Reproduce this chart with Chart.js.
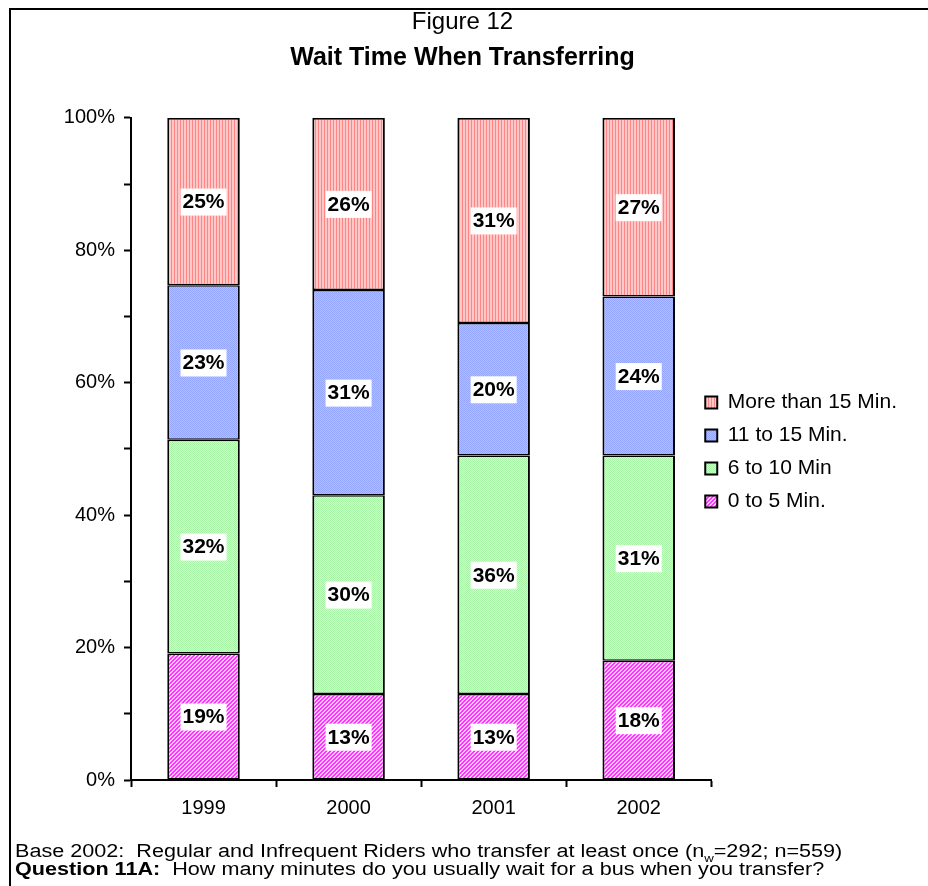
<!DOCTYPE html>
<html>
<head>
<meta charset="utf-8">
<script src="https://cdn.jsdelivr.net/npm/chart.js@4"></script>
<style>
  html, body { margin: 0; padding: 0; background: #fff; overflow: hidden; }
  #wrap { position: relative; width: 928px; height: 886px; }
  #frame { position: absolute; left: 9px; top: 8px; width: 940px; height: 900px; border-top: 2px solid #000; border-left: 2px solid #000; }
  #chart { position: absolute; left: 0; top: 0; }
  .note { position: absolute; left: 15px; font: 18px "Liberation Sans", Arial, sans-serif; color: #000; white-space: nowrap; line-height: 18px; transform: scaleX(1.2); transform-origin: 0 0; }
  .note sub { font-size: 11px; line-height: 0; }
</style>
</head>
<body>
<div id="wrap">
  <div id="frame"></div>
  <canvas id="chart" width="928" height="886"></canvas>
  <div class="note" style="top:842px">Base 2002:&nbsp; Regular and Infrequent Riders who transfer at least once (n<sub>w</sub>=292; n=559)</div>
  <div class="note" style="top:860px"><b>Question 11A:</b>&nbsp; How many minutes do you usually wait for a bus when you transfer?</div>
</div>
<script>
// ====== DATA ======
const years = ['1999', '2000', '2001', '2002'];
const min0to5 = [19.1, 13, 13, 18];
const min6to10 = [32.3, 30, 36, 31];
const min11to15 = [23.3, 31, 20, 24];
const over15 = [25.3, 26, 31, 27];
const yTicks = [0, 20, 40, 60, 80, 100];

const FONT = '"Liberation Sans", Arial, sans-serif';

// ====== PATTERNS ======
function makePattern(size, paint) {
    const c = document.createElement('canvas');
    c.width = size; c.height = size;
    const g = c.getContext('2d');
    for (let y = 0; y < size; y++) {
        for (let x = 0; x < size; x++) {
            g.fillStyle = paint(x, y);
            g.fillRect(x, y, 1, 1);
        }
    }
    return g.createPattern(c, 'repeat');
}

const redStripes = makePattern(3, (x, y) => x === 0 ? '#ff8585' : '#ffc8c8');
const blueDots = makePattern(2, (x, y) => (x + y) % 2 === 0 ? '#93a5ff' : '#b3c0ff');
const greenDots = makePattern(2, (x, y) => (x + y) % 2 === 0 ? '#a8f5a8' : '#ccffcc');
const pinkHatch = makePattern(4, (x, y) => (x + y) % 4 < 2 ? '#ff33ff' : '#ffc4ff');

// ====== PLUGINS ======
// white-boxed percentage in the middle of each segment
const segmentLabels = {
    id: 'segmentLabels',
    afterDatasetsDraw(chart) {
        const ctx = chart.ctx;
        ctx.save();
        ctx.font = 'bold 21px ' + FONT;
        ctx.textAlign = 'center';
        ctx.textBaseline = 'middle';
        chart.data.datasets.forEach((ds, i) => {
            chart.getDatasetMeta(i).data.forEach((bar, j) => {
                const txt = Math.round(ds.data[j]) + '%';
                const cy = (bar.y + bar.base) / 2;
                const w = ctx.measureText(txt).width + 4;
                ctx.fillStyle = '#fff';
                ctx.fillRect(bar.x - w / 2, cy - 13, w, 27);
                ctx.fillStyle = '#000';
                ctx.fillText(txt, bar.x, cy + 1);
            });
        });
        ctx.restore();
    }
};

// nudge the legend so it sits like the original (slightly into the axis gap)
const legendNudge = {
    id: 'legendNudge',
    afterLayout(chart) {
        const lg = chart.legend;
        lg.left -= 18; lg.right -= 18;
        lg.top += 42; lg.bottom += 42;
    }
};

// ====== CHART ======
const barStyle = {
    borderColor: '#000',
    borderWidth: { top: 1.5, bottom: 1.5, left: 2, right: 2 },
    borderSkipped: false,
    barPercentage: 1,
    categoryPercentage: 0.5
};

new Chart(document.getElementById('chart'), {
    type: 'bar',
    data: {
        labels: years,
        datasets: [
            { label: '0 to 5 Min.', data: min0to5, backgroundColor: pinkHatch, ...barStyle },
            { label: '6 to 10 Min', data: min6to10, backgroundColor: greenDots, ...barStyle },
            { label: '11 to 15 Min.', data: min11to15, backgroundColor: blueDots, ...barStyle },
            { label: 'More than 15 Min.', data: over15, backgroundColor: redStripes, ...barStyle,
              borderWidth: { top: 2, bottom: 1.5, left: 2, right: 2 } }
        ]
    },
    options: {
        responsive: false,
        animation: false,
        layout: { padding: { left: 0, right: 3, top: 0, bottom: 66 } },
        plugins: {
            title: {
                display: true,
                text: 'Figure 12',
                color: '#000',
                font: { family: FONT, size: 24, weight: 'normal' },
                padding: { top: 8, bottom: 6 }
            },
            subtitle: {
                display: true,
                text: 'Wait Time When Transferring',
                color: '#000',
                font: { family: FONT, size: 25, weight: 'bold' },
                padding: { top: 0, bottom: 45 }
            },
            legend: {
                position: 'right',
                reverse: true,
                labels: {
                    color: '#000',
                    boxWidth: 12,
                    boxHeight: 12,
                    padding: 12,
                    font: { family: FONT, size: 21 },
                    generateLabels: chart => Chart.defaults.plugins.legend.labels.generateLabels(chart)
                        .map(item => ({ ...item, lineWidth: 2 }))
                }
            },
            tooltip: { enabled: false }
        },
        scales: {
            x: {
                stacked: true,
                grid: { drawOnChartArea: false, tickLength: 7, tickColor: '#000', tickWidth: 2 },
                border: { color: '#000', width: 2 },
                ticks: { color: '#000', padding: 9, font: { family: FONT, size: 20 } },
                afterFit: s => { s.height = 40; }
            },
            y: {
                stacked: true,
                min: 0,
                max: 100,
                grid: { drawOnChartArea: false, tickLength: 7, tickColor: '#000', tickWidth: 2 },
                border: { color: '#000', width: 2 },
                ticks: {
                    stepSize: 10,
                    color: '#000',
                    padding: 9,
                    font: { family: FONT, size: 20 },
                    callback: v => yTicks.includes(v) ? v + '%' : ''
                },
                afterFit: s => { s.width = 131; }
            }
        }
    },
    plugins: [segmentLabels, legendNudge]
});
</script>
</body>
</html>
